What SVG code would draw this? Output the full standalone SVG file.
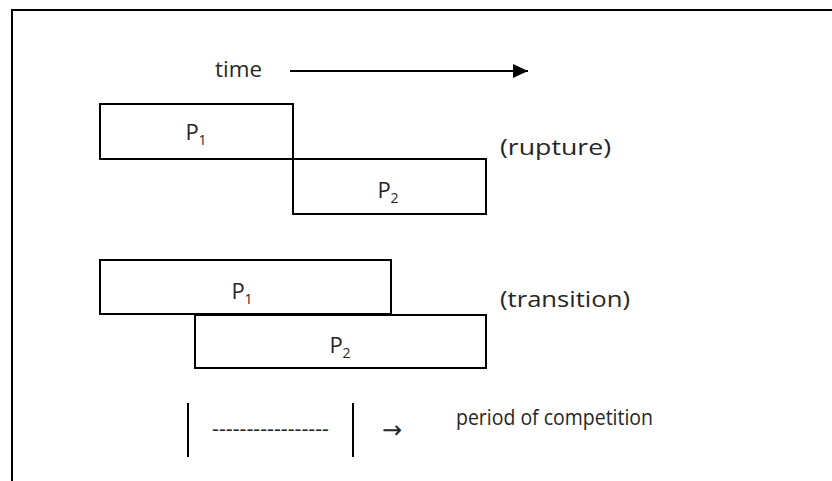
<svg xmlns="http://www.w3.org/2000/svg" width="832" height="481" viewBox="0 0 832 481">
<style>
.t{font-family:"Open Sans","Liberation Sans",Arial,sans-serif;font-size:22px;fill:#262626}
.sub{font-size:14px}
.box{fill:none;stroke:#000;stroke-width:2}
.ln{stroke:#000;stroke-width:2;fill:none}
.arr{font-family:"DejaVu Sans",sans-serif;font-size:24px;fill:#262626}
</style>
<defs>
<marker id="ah" markerWidth="15" markerHeight="14" refX="15" refY="7" orient="auto" markerUnits="userSpaceOnUse">
<path d="M0,0 L15,7 L0,14 Z" fill="#000"/>
</marker>
</defs>
<rect width="832" height="481" fill="#fff"/>
<g id="frame">
<path class="ln" d="M12,481 V10 H832"/>
</g>
<g id="time">
<text class="t" x="215" y="77" textLength="47" lengthAdjust="spacingAndGlyphs">time</text>
</g>
<g id="connectors">
<line class="ln" x1="290" y1="71" x2="528" y2="71" marker-end="url(#ah)"/>
</g>
<g id="rupture-p1">
<rect class="box" x="100" y="104" width="193" height="55"/>
<text class="t" x="196" y="140" text-anchor="middle">P<tspan class="sub" dy="5">1</tspan></text>
</g>
<g id="rupture-p2">
<rect class="box" x="293" y="159" width="193" height="55"/>
<text class="t" x="388" y="198" text-anchor="middle">P<tspan class="sub" dy="5">2</tspan></text>
</g>
<g id="rupture-label">
<text class="t" x="500" y="155" textLength="111" lengthAdjust="spacingAndGlyphs">(rupture)</text>
</g>
<g id="transition-p1">
<rect class="box" x="100" y="260" width="291" height="54"/>
<text class="t" x="242" y="299" text-anchor="middle">P<tspan class="sub" dy="5">1</tspan></text>
</g>
<g id="transition-p2">
<rect class="box" x="195" y="315" width="291" height="53"/>
<text class="t" x="340" y="353" text-anchor="middle">P<tspan class="sub" dy="5">2</tspan></text>
</g>
<g id="transition-label">
<text class="t" x="500" y="307" textLength="130" lengthAdjust="spacingAndGlyphs">(transition)</text>
</g>
<g id="competition">
<line class="ln" x1="188" y1="403" x2="188" y2="457"/>
<line class="ln" x1="353" y1="403" x2="353" y2="457"/>
<text class="t" x="212" y="436" textLength="117" lengthAdjust="spacingAndGlyphs">-----------------</text>
<text class="arr" x="382" y="438">→</text>
<text class="t" x="456" y="425" textLength="197" lengthAdjust="spacingAndGlyphs">period of competition</text>
</g>
</svg>
